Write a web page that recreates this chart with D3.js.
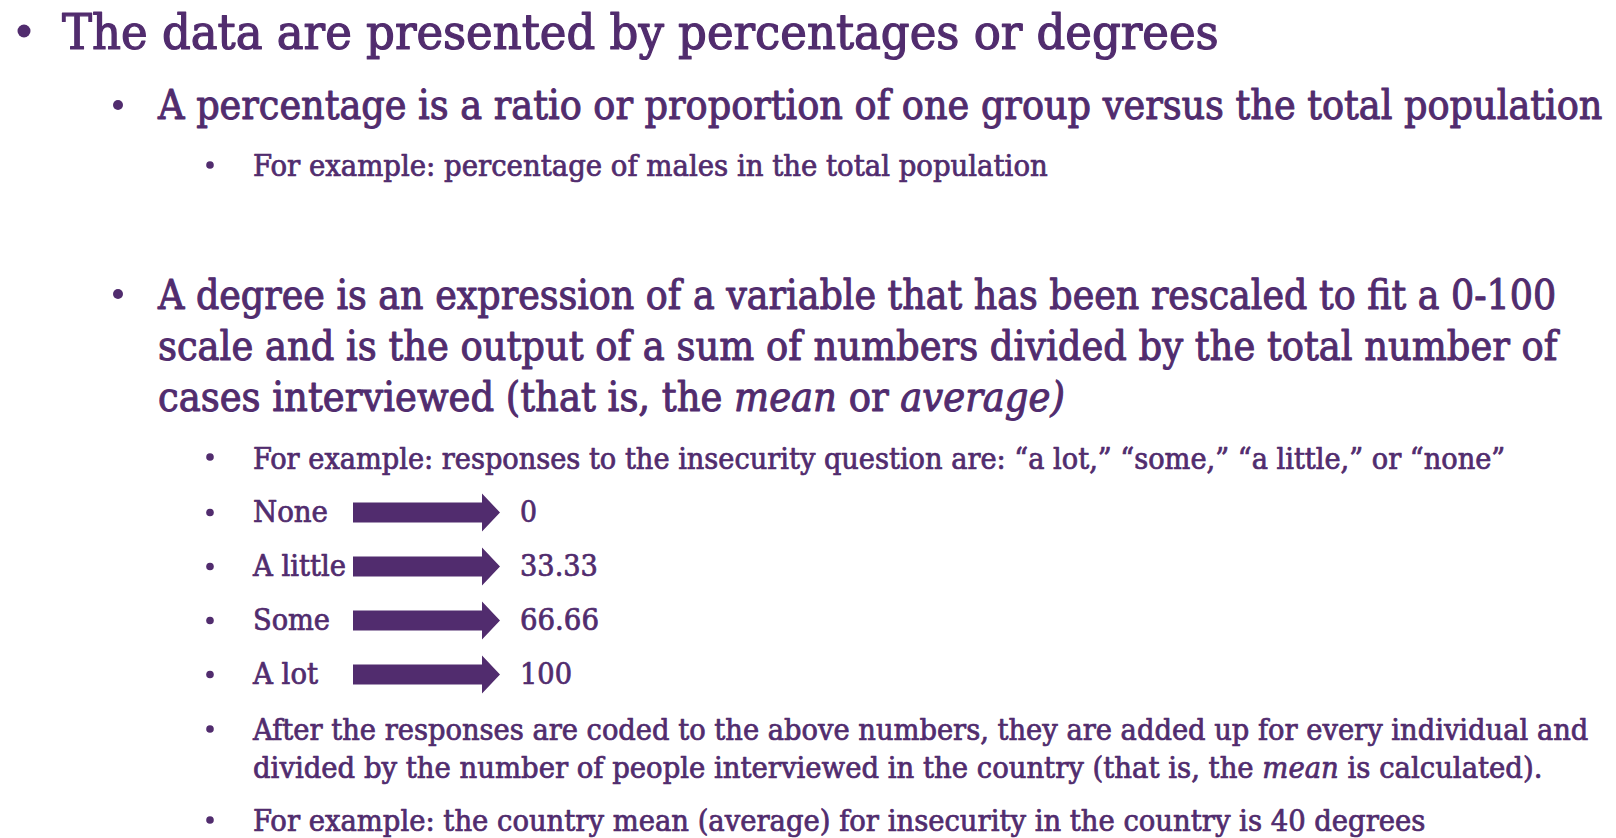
<!DOCTYPE html>
<html><head><meta charset="utf-8">
<script src="https://cdn.jsdelivr.net/npm/d3@7"></script>
<style>html,body{margin:0;padding:0;background:#fff;overflow:hidden}</style>
</head><body>
<svg id="s" width="1616" height="838"></svg>
<script>
// ---- data ----
const responseCategories = ["None", "A little", "Some", "A lot"];
const responseValues = [0, 33.33, 66.66, 100];
const valueLabels = ["0", "33.33", "66.66", "100"];

// text lines: arrays of [text, italic?] segments
const titleLines = [
  [["The data are presented by percentages or degrees", 0]]
];
const percentLines = [
  [["A percentage is a ratio or proportion of one group versus the total population", 0]]
];
const percentExample = [
  [["For example: percentage of males in the total population", 0]]
];
const degreeLines = [
  [["A degree is an expression of a variable that has been rescaled to fit a 0-100", 0]],
  [["scale and is the output of a sum of numbers divided by the total number of", 0]],
  [["cases interviewed (that is, the ", 0], ["mean", 1], [" or ", 0], ["average)", 1]]
];
const degreeExample = [
  [["For example: responses to the insecurity question are: \u201ca lot,\u201d \u201csome,\u201d \u201ca little,\u201d or \u201cnone\u201d", 0]]
];
const afterLines = [
  [["After the responses are coded to the above numbers, they are added up for every individual and", 0]],
  [["divided by the number of people interviewed in the country (that is, the ", 0], ["mean", 1], [" is calculated).", 0]]
];
const finalExample = [
  [["For example: the country mean (average) for insecurity in the country is 40 degrees", 0]]
];

// ---- layout (positions / styles) ----
const COLOR = "#512c6e";
const FONT = "'DejaVu Serif', 'Liberation Serif', serif";
const blocks = [
  {lines: titleLines, x: 62, y0: 49, dy: 0, size: 49, rights: [1219], bx: 24, by: 31, br: 6.5},
  {lines: percentLines, x: 158, y0: 119, dy: 0, size: 40.5, rights: [1603], bx: 118, by: 105, br: 5},
  {lines: percentExample, x: 253, y0: 176, dy: 0, size: 29.5, rights: [1048], bx: 210, by: 165, br: 3.8},
  {lines: degreeLines, x: 158, y0: 308.5, dy: 51, size: 40.5, rights: [1557, 1558, 1065], bx: 118, by: 294, br: 5},
  {lines: degreeExample, x: 253, y0: 469, dy: 0, size: 29.5, rights: [1506], bx: 210, by: 457, br: 3.8},
  {lines: afterLines, x: 253, y0: 740, dy: 37.5, size: 29.5, rights: [1589, 1543], bx: 210, by: 729, br: 3.8},
  {lines: finalExample, x: 253, y0: 831, dy: 0, size: 29.5, rights: [1426], bx: 210, by: 820, br: 3.8}
];
const rowLabelRight = [328, 346, 330, 318];
const valueRight = [537, 598, 599, 572];

const svg = d3.select("#s");

function drawLine(g, segs, x, y, size, right) {
  const t = g.append("text")
    .attr("font-family", FONT)
    .attr("font-stretch", "condensed")
    .attr("font-size", size)
    .attr("fill", COLOR)
    .attr("stroke", COLOR)
    .attr("stroke-width", size * 0.024)
    .attr("stroke-linejoin", "round");
  segs.forEach(([s, it]) => {
    t.append("tspan").attr("font-style", it ? "italic" : "normal").text(s);
  });
  const w = t.node().getComputedTextLength();
  const sx = (right - x) / w;
  t.attr("transform", `translate(${x},${y}) scale(${sx},1)`);
  return t;
}

blocks.forEach(b => {
  const g = svg.append("g");
  g.append("circle").attr("cx", b.bx).attr("cy", b.by).attr("r", b.br).attr("fill", COLOR);
  b.lines.forEach((segs, i) => drawLine(g, segs, b.x, b.y0 + i * b.dy, b.size, b.rights[i]));
});

// ---- mapping rows with arrows ----
const yRow = d3.scalePoint().domain(responseCategories).range([512.5, 674.5]);
const xArrow = d3.scaleLinear().domain([0, 1]).range([353, 500]);
const shaftH = 20, headH = 38, headLen = 18;

const rows = svg.append("g").selectAll("g").data(responseCategories).join("g");
rows.append("circle")
  .attr("cx", 210).attr("cy", d => yRow(d)).attr("r", 3.8).attr("fill", COLOR);
rows.each(function(d, i) {
  const g = d3.select(this);
  drawLine(g, [[d, 0]], 253, yRow(d) + 9.5, 29.5, rowLabelRight[i]);
  drawLine(g, [[valueLabels[i], 0]], 520, yRow(d) + 9.5, 29.5, valueRight[i]);
});
rows.append("path")
  .attr("fill", COLOR)
  .attr("d", d => {
    const cy = yRow(d), x0 = xArrow(0), x1 = xArrow(1), xh = x1 - headLen;
    const p = d3.path();
    p.moveTo(x0, cy - shaftH / 2);
    p.lineTo(xh, cy - shaftH / 2);
    p.lineTo(xh, cy - headH / 2);
    p.lineTo(x1, cy);
    p.lineTo(xh, cy + headH / 2);
    p.lineTo(xh, cy + shaftH / 2);
    p.lineTo(x0, cy + shaftH / 2);
    p.closePath();
    return p.toString();
  });
</script>
</body></html>
